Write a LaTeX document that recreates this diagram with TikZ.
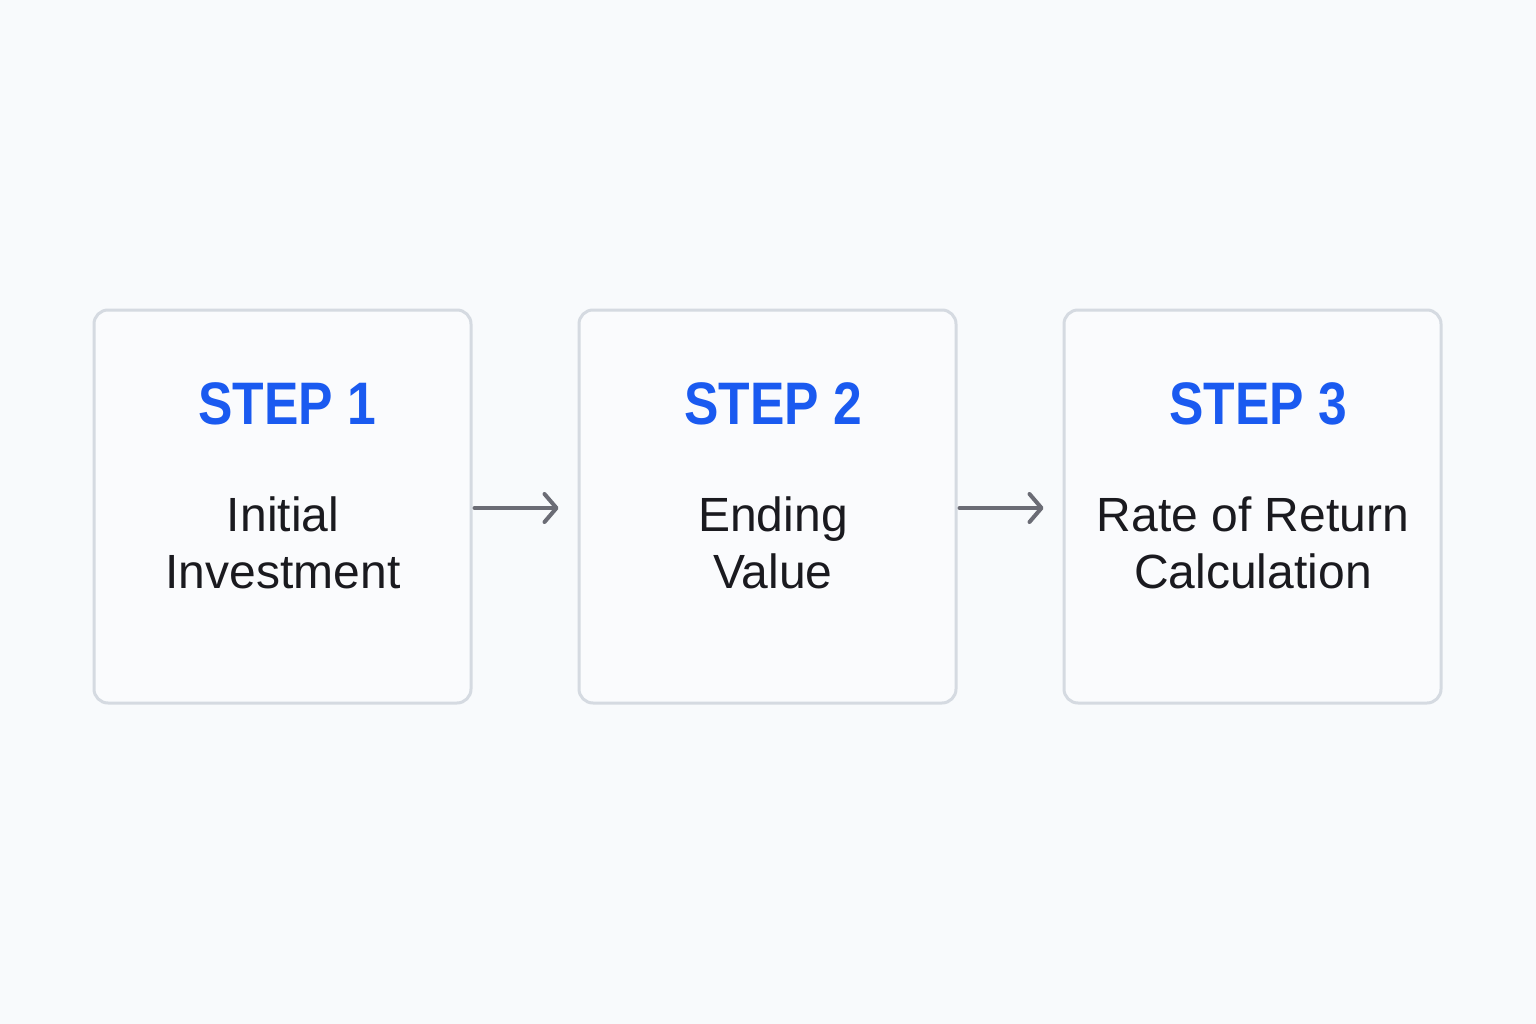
\documentclass[tikz,border=0pt]{standalone}
\usepackage{fontspec}
\setmainfont{Liberation Sans}
\usetikzlibrary{arrows.meta}
\definecolor{bg}{HTML}{F8FAFC}
\definecolor{boxfill}{HTML}{FAFBFD}
\definecolor{boxline}{HTML}{D5DAE1}
\definecolor{stepblue}{HTML}{1A5AF0}
\definecolor{bodytext}{HTML}{1A1A1F}
\definecolor{arrowgray}{HTML}{6B6C75}
\begin{document}
\begin{tikzpicture}[x=1pt,y=-1pt,
  stepbox/.style={draw=boxline, fill=boxfill, line width=3pt, rounded corners=14pt,
    minimum width=377pt, minimum height=393pt, inner sep=0pt},
  steptitle/.style={text=stepblue, font=\fontsize{60}{72}\selectfont\bfseries, inner sep=0pt,
    transform shape, xscale=0.86},
  steptext/.style={text=bodytext, font=\fontsize{48}{57}\selectfont, align=center, inner sep=0pt},
  flow/.style={draw=arrowgray, line width=4pt, line cap=round,
    -{Straight Barb[length=12pt,width=28pt,line width=4pt,round]},
    shorten <=2pt, shorten >=19pt}
]
\useasboundingbox[fill=bg] (0,0) rectangle (1536,1024);

\node[stepbox] (b1) at (282.5,506.5) {};
\node[stepbox] (b2) at (767.5,506.5) {};
\node[stepbox] (b3) at (1252.5,506.5) {};

\node[steptitle] (t1) at (287,404) {STEP 1};
\node[steptitle] (t2) at (773,404) {STEP 2};
\node[steptitle] (t3) at (1258,404) {STEP 3};

\node[steptext] (d1) at (283,543) {Initial\\Investment};
\node[steptext] (d2) at (773,543) {Ending\\Value};
\node[steptext] (d3) at (1253,543) {Rate of Return\\Calculation};

\draw[flow] ([yshift=-1.5pt]b1.east) -- ([yshift=-1.5pt]b2.west);
\draw[flow] ([yshift=-1.5pt]b2.east) -- ([yshift=-1.5pt]b3.west);
\end{tikzpicture}
\end{document}
